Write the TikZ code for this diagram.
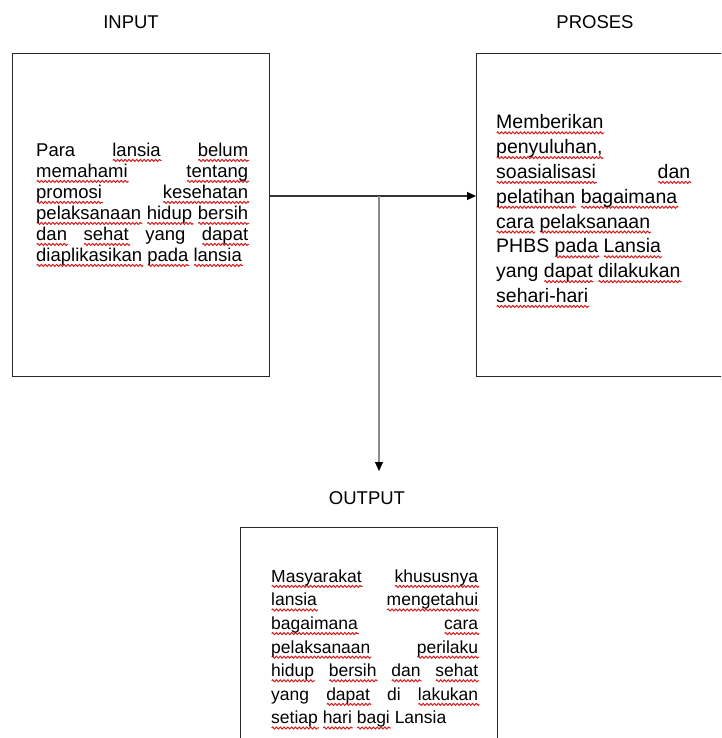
\documentclass[tikz,border=0pt]{standalone}
\usepackage{fontspec}
\setmainfont{Liberation Sans}
\usetikzlibrary{arrows.meta,decorations.pathmorphing}
\definecolor{squig}{RGB}{215,30,30}
\definecolor{boxline}{RGB}{40,40,40}
\newsavebox\sqbox
\newlength\sqw
\newcommand\sq[1]{\sbox\sqbox{#1}\setlength\sqw{\wd\sqbox}\leavevmode\tikz[baseline=0pt]{\useasboundingbox (0pt,0pt);\draw[squig, line width=1pt, line join=round, decorate, decoration={zigzag, amplitude=1.1pt, segment length=3.8pt}] (0.5pt,-4pt) -- (\sqw+1pt,-4pt);}\usebox\sqbox}
\newcommand\jl[2]{\hbox to #1pt{#2}}
\tikzset{
  box/.style={draw=boxline, line width=1.4pt, minimum width=257pt, minimum height=323pt, anchor=north west, inner sep=0pt},
  lab/.style={font=\fontsize{18.5}{22}\selectfont, anchor=base, inner sep=0pt},
  txt/.style={anchor=north west, inner sep=0pt, align=left},
  conn/.style={line width=1.2pt, draw=black!80, -{Triangle[length=9pt,width=8pt,color=black]}},
  conng/.style={line width=1.2pt, draw=black!45, -{Triangle[length=9pt,width=8pt,color=black]}}
}
\begin{document}
\begin{tikzpicture}[x=1pt,y=-1pt]
\useasboundingbox (0,0) rectangle (721,738);
\clip (0,0) rectangle (721,738);
% labels
\node[lab] (tin) at (131,28.5) {INPUT};
\node[lab] (tpr) at (595,28.5) {PROSES};
\node[lab] (tout) at (367,504) {OUTPUT};
% boxes
\node[box] (in) at (12,53) {};
\node[box, minimum width=270pt] (pr) at (476,53) {};
\node[box, minimum height=260pt] (out) at (240,527) {};
% texts
\node[txt, font=\fontsize{18.5}{21}\selectfont] (intext) at (36,142.8) {%
\jl{212}{Para\hfill\sq{lansia}\hfill\sq{belum}}\\
\jl{212}{\sq{memahami}\hfill\sq{tentang}}\\
\jl{212}{\sq{promosi}\hfill\sq{kesehatan}}\\
\jl{212}{\sq{pelaksanaan}\hfill\sq{hidup}\hfill\sq{bersih}}\\
\jl{212}{\sq{dan}\hfill\sq{sehat}\hfill yang\hfill\sq{dapat}}\\
\sq{diaplikasikan} \sq{pada} \sq{lansia}};
\node[txt, font=\fontsize{19.5}{24.8}\selectfont] (prtext) at (496,114.5) {%
\sq{Memberikan}\\
\sq{penyuluhan,}\\
\jl{194}{\sq{soasialisasi}\hfill\sq{dan}}\\
\sq{pelatihan} \sq{bagaimana}\\
\sq{cara} \sq{pelaksanaan}\\
PHBS \sq{pada} \sq{Lansia}\\
yang \sq{dapat} \sq{dilakukan}\\
\sq{sehari-hari}};
\node[txt, font=\fontsize{17.5}{23.6}\selectfont] (outtext) at (271,569.5) {%
\jl{207}{\sq{Masyarakat}\hfill\sq{khususnya}}\\
\jl{207}{\sq{lansia}\hfill\sq{mengetahui}}\\
\jl{207}{\sq{bagaimana}\hfill\sq{cara}}\\
\jl{207}{\sq{pelaksanaan}\hfill\sq{perilaku}}\\
\jl{207}{\sq{hidup}\hfill\sq{bersih}\hfill\sq{dan}\hfill\sq{sehat}}\\
\jl{207}{yang\hfill\sq{dapat}\hfill di\hfill\sq{lakukan}}\\
\sq{setiap} \sq{hari} \sq{bagi} Lansia};
% connectors
\coordinate (j) at (379,196);
\coordinate (oend) at (379,471);
\draw[conn] (in.east |- j) -- (pr.west |- j);
\draw[conng] (j) -- (oend);
\end{tikzpicture}
\end{document}
